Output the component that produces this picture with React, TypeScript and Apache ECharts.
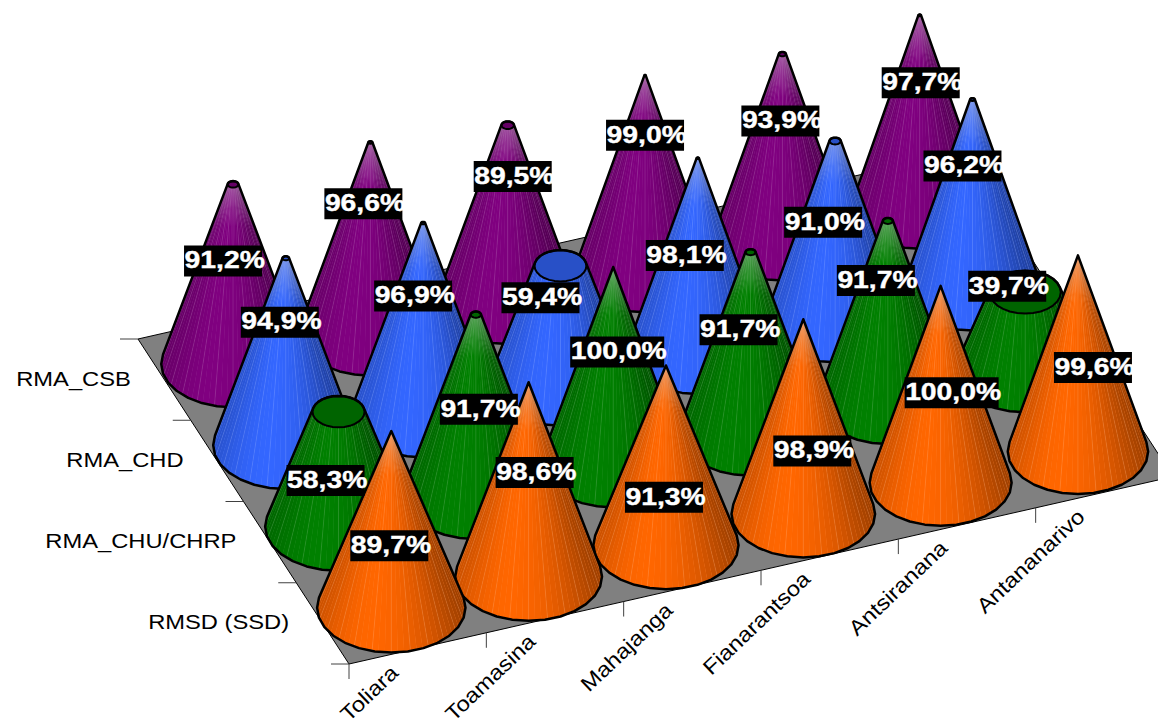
import React, { useEffect, useRef } from "react";
import * as echarts from "echarts";

const regions = ["Toliara", "Toamasina", "Mahajanga", "Fianarantsoa", "Antsiranana", "Antananarivo"];
const facilities = ["RMSD (SSD)", "RMA_CHU/CHRP", "RMA_CHD", "RMA_CSB"];

const rmsdValues = [89.7, 98.6, 91.3, 98.9, 100.0, 99.6];
const chuValues = [58.3, 91.7, 100.0, 91.7, 91.7, 39.7];
const chdValues = [94.9, 96.9, 59.4, 98.1, 91.0, 96.2];
const csbValues = [91.2, 96.6, 89.5, 99.0, 93.9, 97.7];
const allValues = [rmsdValues, chuValues, chdValues, csbValues];

const rowColors = [
  [255, 102, 0],
  [0, 128, 0],
  [51, 102, 255],
  [128, 0, 128],
];
// how much of the truncated top each facility's cones show (the front row comes to a point)
const capFactor = [0, 0.85, 0.9, 0.85];

// label offsets from the foot of each cone, one table per facility
const labelDx = [
  [-2, 6, -2, 9, 11, 15],
  [-13, 3, 4, -12, -12, -18],
  [-6, -10, -20, -13, -12, -10],
  [-10, -7, 5, 0, -2, 1],
];
const labelDy = [
  [-62, -104, -48, -63, -90, -84],
  [-46, -86, -112, -103, -121, -84],
  [-123, -118, -85, -96, -98, -123],
  [-103, -129, -125, -135, -118, -125],
];

// the floor in the picture: front-left corner and its two edge vectors
const FLOOR = { x: 349, y: 664, ux: 824, uy: -187.4, vx: -211, vy: -325 };
const CONE_H = 197;
const RY_RATIO = 0.604;
const FONT = "Liberation Sans, Arial, sans-serif";
const AXIS_STRETCH = 1.13;
const LABEL_STRETCH = 1.18;

const project = (u: number, v: number) => [
  FLOOR.x + u * FLOOR.ux + v * FLOOR.vx,
  FLOOR.y + u * FLOOR.uy + v * FLOOR.vy,
];

const toUV = (pt: number[], cs: any) => [
  (pt[0] - cs.x) / cs.width,
  (cs.y + cs.height - pt[1]) / cs.height,
];

function hull(points: number[][]) {
  const pts = points.slice().sort((a, b) => a[0] - b[0] || a[1] - b[1]);
  const cross = (o: number[], a: number[], b: number[]) =>
    (a[0] - o[0]) * (b[1] - o[1]) - (a[1] - o[1]) * (b[0] - o[0]);
  const half = (list: number[][]) => {
    const out: number[][] = [];
    for (const p of list) {
      while (out.length >= 2 && cross(out[out.length - 2], out[out.length - 1], p) <= 0) out.pop();
      out.push(p);
    }
    out.pop();
    return out;
  };
  return half(pts).concat(half(pts.slice().reverse()));
}

function shade(cosT: number) {
  const peak = -0.3;
  if (cosT >= peak) {
    const t = (cosT - peak) / (1 - peak);
    return 1 - 0.38 * t * t;
  }
  const t = (peak - cosT) / (1 + peak);
  return 1 - 0.2 * t * t;
}

const rgb = (c: number[], f: number) =>
  `rgb(${Math.round(c[0] * f)},${Math.round(c[1] * f)},${Math.round(c[2] * f)})`;
const tint = (c: number[], k: number) =>
  `rgb(${Math.round(c[0] + (255 - c[0]) * k)},${Math.round(c[1] + (255 - c[1]) * k)},${Math.round(c[2] + (255 - c[2]) * k)})`;

function renderFloor(params: any, api: any) {
  const kids: any[] = [];
  const corners = [project(0, 0), project(1, 0), project(1, 1), project(0, 1)];
  kids.push({
    type: "polygon",
    shape: { points: corners },
    style: { fill: "#808080", stroke: "#000", lineWidth: 1 },
  });
  const tick = "#404040";
  regions.forEach((_, i) => {
    const p = project(i / regions.length, 0);
    kids.push({
      type: "line",
      shape: { x1: p[0], y1: p[1], x2: p[0], y2: p[1] + 15 },
      style: { stroke: tick, lineWidth: 1 },
    });
    const c = project((i + 0.5) / regions.length, 0);
    kids.push({
      type: "text",
      x: c[0] - 23,
      y: c[1] + 21,
      rotation: 0.76,
      scaleX: AXIS_STRETCH,
      style: {
        text: regions[i],
        x: 0,
        y: 0,
        align: "right",
        verticalAlign: "middle",
        fill: "#000",
        font: `21px ${FONT}`,
      },
    });
  });
  for (let k = 0; k <= facilities.length; k++) {
    const p = project(0, k / facilities.length);
    kids.push({
      type: "line",
      shape: { x1: p[0] - 18, y1: p[1], x2: p[0], y2: p[1] },
      style: { stroke: tick, lineWidth: 1 },
    });
  }
  facilities.forEach((name, i) => {
    const p = project(0, (i + 0.5) / facilities.length);
    kids.push({
      type: "text",
      x: p[0] - 33.5,
      y: p[1] - 1,
      scaleX: AXIS_STRETCH,
      style: {
        text: name,
        x: 0,
        y: 0,
        align: "right",
        verticalAlign: "middle",
        fill: "#000",
        font: `21px ${FONT}`,
      },
    });
  });
  return { type: "group", children: kids };
}

function renderCone(params: any, api: any) {
  const cs = params.coordSys;
  const col = api.value(0);
  const row = api.value(1);
  const val = api.value(2);
  const [u, v] = toUV(api.coord([col, row]), cs);
  const [cx, cy] = project(u, v);
  const r = 75 - 4.8 * u - 3.2 * v;
  const ry = r * RY_RATIO;
  const rt = r * (1 - val / 100) * capFactor[row];
  const ryt = rt * RY_RATIO;
  const top = cy - (CONE_H * val) / 100;
  const color = rowColors[row];
  const N = 72;
  const horizon = -ry / CONE_H;
  const ptB = (a: number) => [cx + r * Math.cos(a), cy + ry * Math.sin(a)];
  const ptT = (a: number) => [cx + rt * Math.cos(a), top + ryt * Math.sin(a)];

  const ring: number[][] = [];
  for (let i = 0; i < 28; i++) {
    const a = (i / 28) * Math.PI * 2;
    ring.push(ptB(a));
    ring.push(ptT(a));
  }
  const outline = hull(ring);
  const kids: any[] = [
    { type: "polygon", shape: { points: outline }, style: { fill: tint(color, 0.22) } },
  ];
  for (let i = 0; i < N; i++) {
    const a1 = (i / N) * Math.PI * 2;
    const a2 = ((i + 1) / N) * Math.PI * 2;
    const mid = (a1 + a2) / 2;
    if (Math.sin(mid) < horizon - 0.05) continue;
    kids.push({
      type: "polygon",
      shape: { points: [ptB(a1), ptB(a2), ptT(a2), ptT(a1)] },
      style: { fill: rgb(color, shade(Math.cos(mid))) },
    });
    if (i % 3 === 0) {
      const b = ptB(a1);
      const t = ptT(a1);
      kids.push({
        type: "line",
        shape: { x1: b[0], y1: b[1], x2: t[0], y2: t[1] },
        style: { stroke: "rgba(255,255,255,0.16)", lineWidth: 0.7 },
      });
    }
  }
  if (val >= 80) {
    kids.push({
      type: "polygon",
      shape: { points: outline },
      style: {
        fill: {
          type: "linear",
          x: 0,
          y: 0,
          x2: 0,
          y2: 1,
          colorStops: [
            { offset: 0, color: "rgba(205,205,205,0.36)" },
            { offset: 0.2, color: "rgba(205,205,205,0)" },
          ],
        },
      },
    });
  }
  if (rt > 0.5) {
    const cap: number[][] = [];
    for (let i = 0; i < 28; i++) cap.push(ptT((i / 28) * Math.PI * 2));
    kids.push({
      type: "polygon",
      shape: { points: cap },
      style: { fill: rgb(color, 0.78), stroke: "#000", lineWidth: 2, lineJoin: "round" },
    });
  }
  kids.push({
    type: "polygon",
    shape: { points: outline },
    style: { fill: "none", stroke: "#000", lineWidth: 2.5, lineJoin: "round" },
  });
  return { type: "group", children: kids };
}

function renderLabel(params: any, api: any) {
  const cs = params.coordSys;
  const col = api.value(0);
  const row = api.value(1);
  const val = api.value(2);
  const [u, v] = toUV(api.coord([col, row]), cs);
  const [cx, cy] = project(u, v);
  const lx = cx + labelDx[row][col];
  const ly = cy + labelDy[row][col];
  const text = val.toFixed(1).replace(".", ",") + "%";
  const w = text.length > 5 ? 94 : 78;
  const h = 31;
  return {
    type: "group",
    children: [
      {
        type: "rect",
        shape: { x: lx - w / 2, y: ly - h / 2, width: w, height: h },
        style: { fill: "#000" },
      },
      {
        type: "text",
        x: lx - w / 2 + 0.5,
        y: ly - 1,
        scaleX: LABEL_STRETCH,
        style: {
          text,
          x: 0,
          y: 0,
          align: "left",
          verticalAlign: "middle",
          fill: "#fff",
          stroke: "#fff",
          lineWidth: 0.4,
          font: `bold 24px ${FONT}`,
        },
      },
    ],
  };
}

export default function App() {
  const ref = useRef<HTMLDivElement>(null);
  useEffect(() => {
    document.body.style.margin = "0";
    const chart = echarts.init(ref.current!, null, { renderer: "svg" });
    // back row first, right to left, so nearer cones cover farther ones
    const items: any[] = [];
    for (let r = facilities.length - 1; r >= 0; r--) {
      for (let c = regions.length - 1; c >= 0; c--) {
        items.push([regions[c], facilities[r], allValues[r][c]]);
      }
    }
    chart.setOption({
      animation: false,
      backgroundColor: "#fff",
      tooltip: { show: false },
      grid: { left: 0, right: 0, top: 0, bottom: 0 },
      xAxis: { type: "category", data: regions, show: false },
      yAxis: { type: "category", data: facilities, show: false },
      series: [
        {
          type: "custom",
          z: 1,
          silent: true,
          clip: false,
          data: [[regions[0], facilities[0], 0]],
          renderItem: renderFloor,
        },
        {
          type: "custom",
          z: 2,
          silent: true,
          clip: false,
          data: items,
          renderItem: renderCone,
        },
        {
          type: "custom",
          z: 3,
          silent: true,
          clip: false,
          data: items,
          renderItem: renderLabel,
        },
      ],
    });
    return () => chart.dispose();
  }, []);
  return <div ref={ref} style={{ width: 1158, height: 723 }} />;
}
